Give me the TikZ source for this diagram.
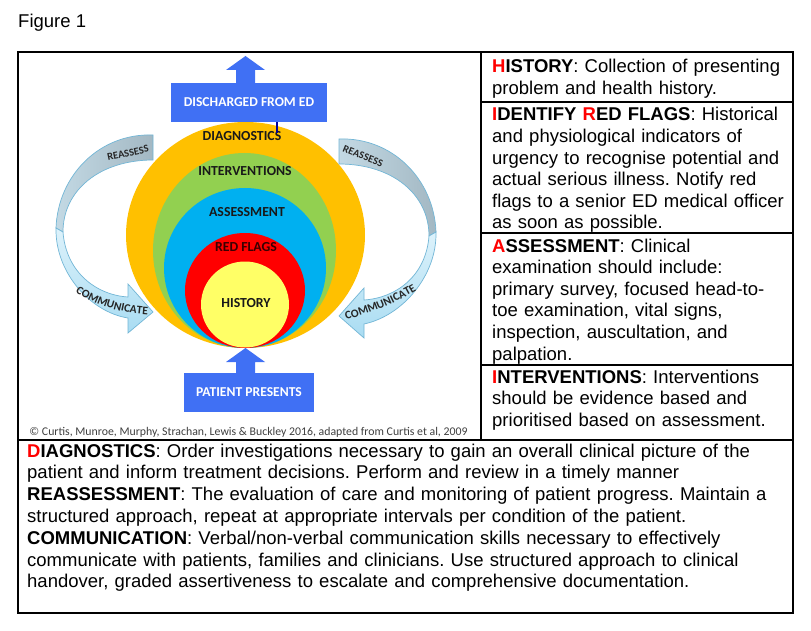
\documentclass[tikz,border=0pt]{standalone}
\usepackage{fontspec}
\setmainfont{Liberation Sans}
\newfontfamily\calib{Carlito}
\usetikzlibrary{decorations.text}
\frenchspacing
\definecolor{ringorange}{HTML}{FFC000}
\definecolor{ringgreen}{HTML}{92D050}
\definecolor{ringblue}{HTML}{00B0F0}
\definecolor{ringred}{HTML}{FF0000}
\definecolor{ringyellow}{HTML}{FFFF66}
\definecolor{boxblue}{HTML}{4070F4}
\definecolor{tred}{HTML}{FF0000}
\definecolor{flagtext}{HTML}{3A0000}
\definecolor{bandgrayA}{HTML}{A3B8C3}
\definecolor{bandgrayB}{HTML}{C3D9E4}
\definecolor{bandlightA}{HTML}{A9DCF2}
\definecolor{bandlightB}{HTML}{DDF2FB}
\definecolor{bandedge}{HTML}{72B6D6}
\definecolor{captgray}{HTML}{404040}
\tikzset{
  tableline/.style={line width=1.1pt, black},
  ringlabel/.style={inner sep=0pt, text=black!90, font=\calib\bfseries\fontsize{13.8}{14}\selectfont},
  bluebox/.style={fill=boxblue, inner sep=0pt, text=white, font=\calib\bfseries\fontsize{13.6}{14}\selectfont},
  bandtext/.style={inner sep=0pt, text=black!85, font=\calib\bfseries\fontsize{10.5}{11}\selectfont},
  grayband/.style={draw=bandedge, line width=0.7pt, left color=bandgrayB, right color=bandgrayA},
  lightband/.style={draw=bandedge, line width=0.7pt, top color=bandlightB, bottom color=bandlightA},
  rtext/.style={anchor=base west, inner sep=0pt, text width=310pt, align=left, font=\fontsize{18.5}{21.6}\selectfont},
  btext/.style={anchor=base west, inner sep=0pt, text width=770pt, align=left, font=\fontsize{18.5}{21.8}\selectfont}
}
\begin{document}
\begin{tikzpicture}[x=1pt,y=-1pt]
\useasboundingbox (0,0) rectangle (811,631);
\fill[white] (0,0) rectangle (811,631);

% title
\node[anchor=base west, inner sep=0pt, font=\fontsize{18.5}{21}\selectfont] (fig) at (18,27.5) {Figure 1};

% circles
\fill[ringorange] (245.5,235) ellipse [x radius=119.5pt, y radius=113pt];
\fill[ringgreen] (244.5,250.5) ellipse [x radius=91.5pt, y radius=97.5pt];
\fill[ringblue] (245,268) ellipse [x radius=81pt, y radius=80pt];
\fill[ringred] (245,290.5) ellipse [x radius=60pt, y radius=57.5pt];
\fill[ringyellow] (245,304.5) ellipse [x radius=44pt, y radius=43pt];

\node[ringlabel] (ldiag) at (242,136) {DIAGNOSTICS};
\node[ringlabel] (linter) at (245,171) {INTERVENTIONS};
\node[ringlabel] (lassess) at (247,212) {ASSESSMENT};
\node[ringlabel, text=flagtext] (lflags) at (246,247) {RED FLAGS};
\node[ringlabel] (lhist) at (246,303) {HISTORY};
\draw[line width=1.6pt, color=blue!60!black] (277,122) -- (277,133);

% blue boxes and block arrows
\node[bluebox, minimum width=156pt, minimum height=39pt] (dis) at (249,102.5) {DISCHARGED FROM ED};
\fill[boxblue] (236,84) -- (236,70) -- (226,70) -- (245.5,56) -- (265,70) -- (255,70) -- (255,84) -- cycle;
\node[bluebox, minimum width=130pt, minimum height=39pt] (pat) at (249,392.5) {PATIENT PRESENTS};
\fill[boxblue] (236,374) -- (236,362) -- (226,362) -- (245.5,348) -- (265,362) -- (255,362) -- (255,374) -- cycle;

% left curved arrow
\path[grayband] (153,135) .. controls (100,133) and (58,175) .. (56,228) -- (63,232) .. controls (63,190) and (100,160) .. (153,160) -- cycle;
\path[lightband] (56,228) .. controls (55,272) and (90,312) .. (128,318) -- (128,333) -- (153,312) -- (128,284) -- (128,297) .. controls (96,295) and (66,272) .. (63,232) -- cycle;

% right curved arrow (mirror)
\begin{scope}[yshift=-4pt, xshift=492pt, xscale=-1]
\path[grayband] (153,135) .. controls (100,133) and (58,175) .. (56,228) -- (63,232) .. controls (63,190) and (100,160) .. (153,160) -- cycle;
\path[lightband] (56,228) .. controls (55,272) and (90,312) .. (128,320) -- (128,334) -- (153,312) -- (128,284) -- (128,296) .. controls (96,294) and (66,272) .. (63,232) -- cycle;
\end{scope}

\node[bandtext, rotate=12] (reL) at (128,153) {REASSESS};
\node[bandtext, rotate=-22] (reR) at (363,156) {REASSESS};
\path[decorate, decoration={text along path, text align=center, text={|\calib\bfseries\fontsize{11.5}{12}\selectfont\color{black!85}|COMMUNICATE}}]
  (70,289) .. controls (94,305) and (120,314) .. (154,315);
\path[decorate, decoration={text along path, text align=center, text={|\calib\bfseries\fontsize{11.5}{12}\selectfont\color{black!85}|COMMUNICATE}}]
  (340,321) .. controls (368,315) and (396,303) .. (422,287);

% caption
\node[inner sep=0pt, text=captgray, font=\calib\fontsize{11.8}{13}\selectfont] (capt) at (248.5,432) {© Curtis, Munroe, Murphy, Strachan, Lewis \& Buckley 2016, adapted from Curtis et al, 2009};

% table
\draw[tableline] (18,52) rectangle (793,613);
\draw[tableline] (481,52) -- (481,440);
\draw[tableline] (481,102) -- (793,102);
\draw[tableline] (481,233) -- (793,233);
\draw[tableline] (481,365) -- (793,365);
\draw[tableline] (18,440) -- (793,440);

% right column text
\node[rtext] (thist) at (492,73) {\textbf{\textcolor{tred}{H}ISTORY}: Collection of presenting\\problem and health history.};
\node[rtext] (tflags) at (492,121) {\textbf{\textcolor{tred}{I}DENTIFY \textcolor{tred}{R}ED FLAGS}: Historical\\and physiological indicators of\\urgency to recognise potential and\\actual serious illness. Notify red\\flags to a senior ED medical officer\\as soon as possible.};
\node[rtext] (tassess) at (492,252) {\textbf{\textcolor{tred}{A}SSESSMENT}: Clinical\\examination should include:\\primary survey, focused head-to-\\toe examination, vital signs,\\inspection, auscultation, and\\palpation.};
\node[rtext] (tinter) at (492,383) {\textbf{\textcolor{tred}{I}NTERVENTIONS}: Interventions\\should be evidence based and\\prioritised based on assessment.};

% bottom text
\node[btext] (tbottom) at (27,457) {\textbf{\textcolor{tred}{D}IAGNOSTICS}: Order investigations necessary to gain an overall clinical picture of the\\patient and inform treatment decisions. Perform and review in a timely manner\\\textbf{REASSESSMENT}: The evaluation of care and monitoring of patient progress. Maintain a\\structured approach, repeat at appropriate intervals per condition of the patient.\\\textbf{COMMUNICATION}: Verbal/non-verbal communication skills necessary to effectively\\communicate with patients, families and clinicians. Use structured approach to clinical\\handover, graded assertiveness to escalate and comprehensive documentation.};
\end{tikzpicture}
\end{document}
